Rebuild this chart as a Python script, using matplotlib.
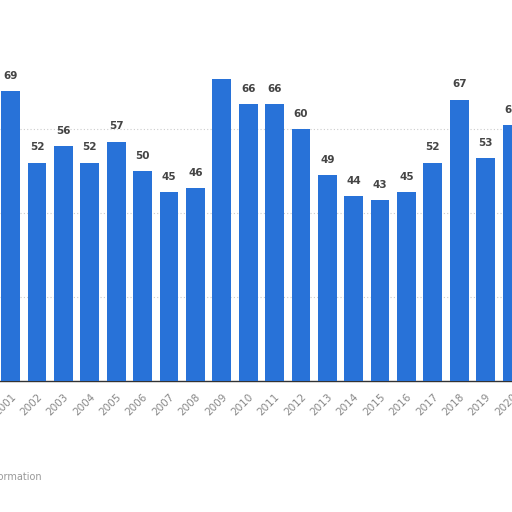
import matplotlib
matplotlib.use("Agg")
import matplotlib.pyplot as plt

years = [2001, 2002, 2003, 2004, 2005, 2006, 2007, 2008, 2009, 2010,
         2011, 2012, 2013, 2014, 2015, 2016, 2017, 2018, 2019, 2020]
values = [69, 52, 56, 52, 57, 50, 45, 46, 72, 66,
          66, 60, 49, 44, 43, 45, 52, 67, 53, 61]
labels_shown = [True] * 8 + [False] + [True] * 11
grid_values = [20, 40, 60]

bar_color = "#2872d8"

fig = plt.figure(figsize=(5.12, 5.12), dpi=100)
ax = fig.add_axes([0, (512 - 381) / 512, 1, 381 / 512])

x = list(range(len(years)))
ax.bar(x, values, width=0.71, color=bar_color, zorder=3)

for xi, v, show in zip(x, values, labels_shown):
    if show:
        ax.text(xi, v + 2.4, str(v), ha="center", va="bottom",
                fontsize=7.5, fontweight="bold", color="#444444", zorder=4)

ax.set_xlim(-0.404, 18.77)
ax.set_ylim(0, 90.7)

ax.set_yticks(grid_values)
ax.yaxis.grid(True, linestyle=(0, (1, 2)), color="#cccccc", linewidth=0.8, zorder=0)
ax.tick_params(axis="y", length=0, labelleft=False)

ax.set_xticks(x)
ax.set_xticklabels([str(y) for y in years], rotation=45, ha="right",
                   rotation_mode="anchor", fontsize=7.5, color="#888888")
ax.tick_params(axis="x", length=0, pad=8)

for s in ["top", "left", "right"]:
    ax.spines[s].set_visible(False)
ax.spines["bottom"].set_color("#333333")
ax.spines["bottom"].set_linewidth(1.0)

fig.text(42 / 512, 1 - 477 / 512, "Additional Information", ha="right",
         va="center", fontsize=7, color="#999999")

fig.savefig("out.png", dpi=100)
